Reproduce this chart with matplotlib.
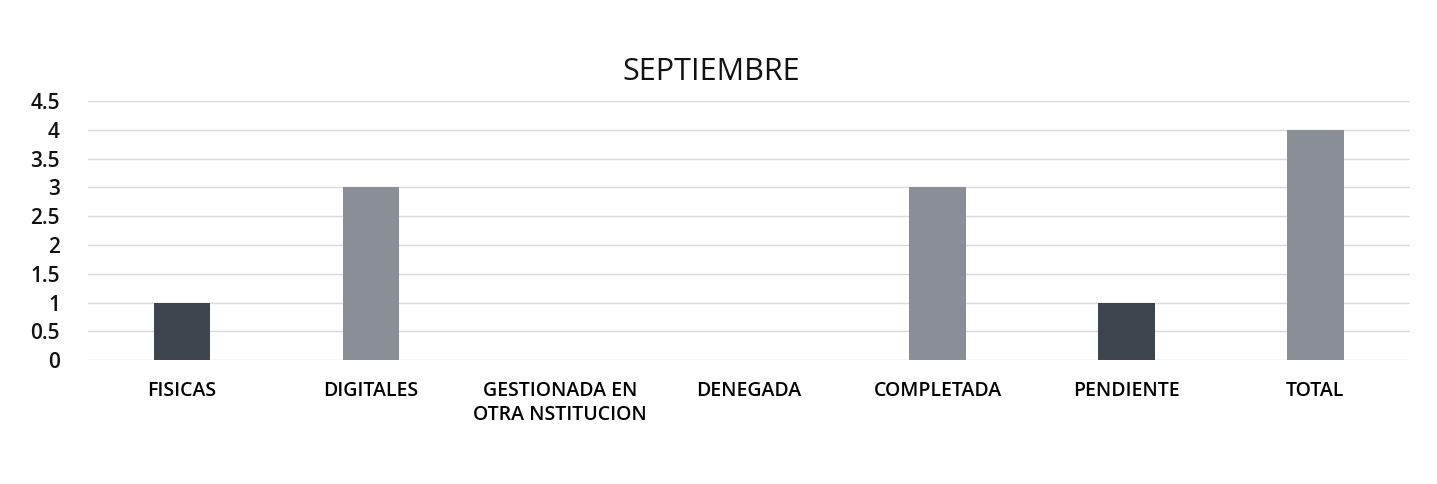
import numpy as np
import matplotlib.pyplot as plt

plt.rcParams['font.family'] = ['Open Sans', 'DejaVu Sans']

categorias = ["FISICAS", "DIGITALES", "GESTIONADA EN\nOTRA NSTITUCION", "DENEGADA",
              "COMPLETADA", "PENDIENTE", "TOTAL"]
valores = [1, 3, 0, 0, 3, 1, 4]
colores = ["#3e444c", "#8a8f97", "#8a8f97", "#8a8f97", "#8a8f97", "#3e444c", "#8a8f97"]
yticks = [0, 0.5, 1, 1.5, 2, 2.5, 3, 3.5, 4, 4.5]

fig = plt.figure(figsize=(14.37, 4.84), dpi=100)
ax = fig.add_axes([0.061, 0.256, 0.92, 0.535])

x = np.arange(len(categorias))
ax.bar(x, valores, width=0.3, color=colores, zorder=3)
ax.set_xlim(-0.5, len(categorias) - 0.5)
ax.set_ylim(0, 4.5)
ax.set_yticks(yticks)
ax.set_yticklabels([f"{v:g}" for v in yticks], fontsize=15, color="#111111",
                   fontweight="semibold")
ax.set_xticks(x)
ax.set_xticklabels(categorias, fontsize=14, color="#000000", linespacing=1.3,
                   va="top", fontweight="semibold")
ax.tick_params(length=0)
ax.tick_params(axis="x", pad=15)
ax.tick_params(axis="y", pad=20)
ax.grid(axis="y", color="#d9d9d9", lw=1, zorder=0)
for s in ax.spines.values():
    s.set_visible(False)

fig.text(0.495, 0.835, "SEPTIEMBRE", ha="center", fontsize=22, color="#111111")

fig.savefig("out.png", dpi=100)
